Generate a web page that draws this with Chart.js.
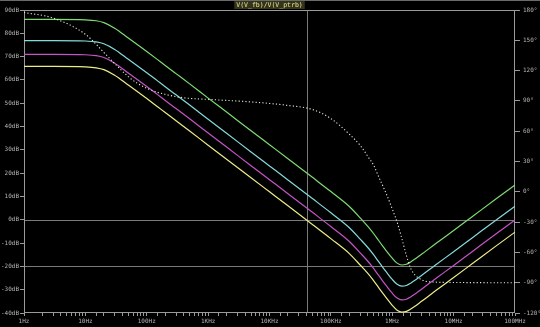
<!DOCTYPE html>
<html>
<head>
<meta charset="utf-8">
<script src="https://cdn.jsdelivr.net/npm/chart.js@4/dist/chart.umd.min.js"></script>
<style>
html,body{margin:0;padding:0;background:#000;}
canvas{display:block;}
</style>
</head>
<body>
<canvas id="c" width="540" height="327"></canvas>
<script>
// ---- data ----
const titleText = 'V(V_fb)/V(V_ptrb)';
const freqHz = [1, 3, 10, 15, 20, 30, 50, 70, 100, 150,
  200, 300, 500, 1e3, 2e3, 5e3, 1e4, 2e4, 5e4, 1e5,
  2e5, 3e5, 4e5, 5e5, 6e5, 7e5, 8e5, 1e6, 1.2e6, 1.43e6,
  1.7e6, 2e6, 3e6, 5e6, 1e7, 2e7, 5e7, 1e8];
const greenDb = [86.0, 86.0, 85.8, 85.4, 84.6, 82.2, 78.0, 75.2, 72.2, 68.7,
  66.2, 62.7, 58.3, 52.2, 46.2, 38.2, 32.2, 26.2, 18.2, 12.1,
  5.7, 0.8, -2.8, -6.0, -8.9, -11.3, -13.3, -16.5, -18.6, -19.4,
  -19.1, -18.1, -14.8, -10.4, -4.6, 1.3, 9.1, 14.9];
const cyanDb = [76.9, 76.9, 76.7, 76.3, 75.5, 73.1, 68.9, 66.1, 63.1, 59.6,
  57.1, 53.6, 49.2, 43.1, 37.1, 29.1, 23.1, 17.1, 9.1, 3.0,
  -3.4, -8.3, -11.9, -15.1, -18.0, -20.4, -22.4, -25.6, -27.7, -28.5,
  -28.2, -27.2, -23.9, -19.5, -13.7, -7.8, 0.0, 5.8];
const magentaDb = [71.0, 71.0, 70.8, 70.4, 69.6, 67.2, 63.0, 60.2, 57.2, 53.7,
  51.2, 47.7, 43.3, 37.2, 31.2, 23.2, 17.2, 11.2, 3.2, -2.9,
  -9.3, -14.2, -17.8, -21.0, -23.9, -26.3, -28.3, -31.5, -33.6, -34.4,
  -34.1, -33.1, -29.8, -25.4, -19.6, -13.7, -5.9, -0.1];
const yellowDb = [65.8, 65.8, 65.6, 65.2, 64.4, 62.0, 57.8, 55.0, 52.0, 48.5,
  46.0, 42.5, 38.1, 32.0, 26.0, 18.0, 12.0, 6.0, -2.0, -8.1,
  -14.5, -19.4, -23.0, -26.2, -29.1, -31.5, -33.5, -36.7, -38.8, -39.6,
  -39.3, -38.3, -35.0, -30.6, -24.8, -18.9, -11.1, -5.3];
const phaseDeg = [177.5, 172, 156, 146, 138, 127, 114, 107.5, 102.5, 98.5,
  96.5, 94.2, 92.5, 91.5, 90.5, 89, 87.5, 85.5, 81.5, 72.5,
  57, 46, 35, 26, 15, 6, -2, -17, -30, -46,
  -63, -76, -87, -89.4, -89.8, -89.9, -90, -90];
const xTickLabels = ['1Hz', '10Hz', '100Hz', '1KHz', '10KHz', '100KHz', '1MHz', '10MHz', '100MHz'];
const vLinesHz = [40400];
const hLinesDb = [0, -20];

// ---- build chart ----
const pts = arr => freqHz.map((f, i) => ({x: f, y: arr[i]}));
const FONT = {family: 'DejaVu Sans Mono', size: 6};
const TXT = '#b4b4b4';
const AX = '#9a9a9a';

const refPlugin = {
  id: 'ref',
  beforeDraw(chart) {
    const c = chart.ctx;
    c.save();
    c.fillStyle = '#000';
    c.fillRect(0, 0, chart.width, chart.height);
    c.restore();
  },
  beforeDatasetsDraw(chart) {
    const {ctx: c, chartArea: a, scales} = chart;
    c.save();
    c.strokeStyle = '#7a7a7a';
    c.lineWidth = 1;
    vLinesHz.forEach(v => {
      const x = Math.round(scales.x.getPixelForValue(v)) + 0.5;
      c.beginPath(); c.moveTo(x, a.top); c.lineTo(x, a.bottom); c.stroke();
    });
    hLinesDb.forEach(v => {
      const y = Math.round(scales.y.getPixelForValue(v)) + 0.5;
      c.beginPath(); c.moveTo(a.left, y); c.lineTo(a.right, y); c.stroke();
    });
    c.strokeStyle = AX;
    c.strokeRect(Math.round(a.left) + 0.5, Math.round(a.top) + 0.5,
      Math.round(a.right - a.left) - 1, Math.round(a.bottom - a.top) - 1);
    // top border
    c.strokeStyle = '#6a6a6a';
    c.beginPath(); c.moveTo(0, 0.5); c.lineTo(chart.width, 0.5); c.stroke();
    // title
    c.font = '6.5px "DejaVu Sans Mono"';
    c.textAlign = 'center';
    c.textBaseline = 'middle';
    const cx = (a.left + a.right) / 2;
    const w = c.measureText(titleText).width;
    c.fillStyle = '#34341c';
    c.fillRect(cx - w / 2 - 2, 1, w + 4, 8);
    c.fillStyle = '#e6e68c';
    c.fillText(titleText, cx, 5.5);
    c.restore();
  }
};

new Chart(document.getElementById('c'), {
  type: 'line',
  data: {
    datasets: [
      {data: pts(phaseDeg), yAxisID: 'y2', borderColor: '#dcecd2', borderWidth: 1.1, borderDash: [1.2, 2.2], pointRadius: 0, cubicInterpolationMode: 'monotone'},
      {data: pts(greenDb), yAxisID: 'y', borderColor: '#7fdc72', borderWidth: 1.2, pointRadius: 0, cubicInterpolationMode: 'monotone'},
      {data: pts(cyanDb), yAxisID: 'y', borderColor: '#86dada', borderWidth: 1.2, pointRadius: 0, cubicInterpolationMode: 'monotone'},
      {data: pts(magentaDb), yAxisID: 'y', borderColor: '#c554c5', borderWidth: 1.2, pointRadius: 0, cubicInterpolationMode: 'monotone'},
      {data: pts(yellowDb), yAxisID: 'y', borderColor: '#ecec88', borderWidth: 1.2, pointRadius: 0, cubicInterpolationMode: 'monotone'}
    ]
  },
  options: {
    responsive: false,
    animation: false,
    devicePixelRatio: 1,
    layout: {padding: {top: 10, left: 0, right: 0, bottom: 0}},
    plugins: {legend: {display: false}, tooltip: {enabled: false}, title: {display: false}},
    scales: {
      x: {
        type: 'logarithmic', min: 1, max: 1e8,
        afterFit: s => { s.height = 14; },
        border: {display: false},
        grid: {drawOnChartArea: false, drawTicks: true, tickLength: 3, color: AX},
        ticks: {
          autoSkip: false, maxRotation: 0, minRotation: 0, padding: 2, color: TXT, font: FONT,
          callback: v => {
            const l = Math.log10(v);
            const r = Math.round(l);
            return Math.abs(l - r) < 1e-9 ? xTickLabels[r] : '';
          }
        }
      },
      y: {
        type: 'linear', position: 'left', min: -40, max: 90,
        afterFit: s => { s.width = 24; },
        border: {display: false},
        grid: {drawOnChartArea: false, tickLength: 4, color: AX},
        ticks: {stepSize: 10, padding: 1, color: TXT, font: FONT, callback: v => v + 'dB'}
      },
      y2: {
        type: 'linear', position: 'right', min: -120, max: 180,
        afterFit: s => { s.width = 25; },
        border: {display: false},
        grid: {drawOnChartArea: false, tickLength: 5, color: AX},
        ticks: {stepSize: 30, padding: 3, color: TXT, font: FONT, callback: v => v + '°'}
      }
    }
  },
  plugins: [refPlugin]
});
</script>
</body>
</html>
